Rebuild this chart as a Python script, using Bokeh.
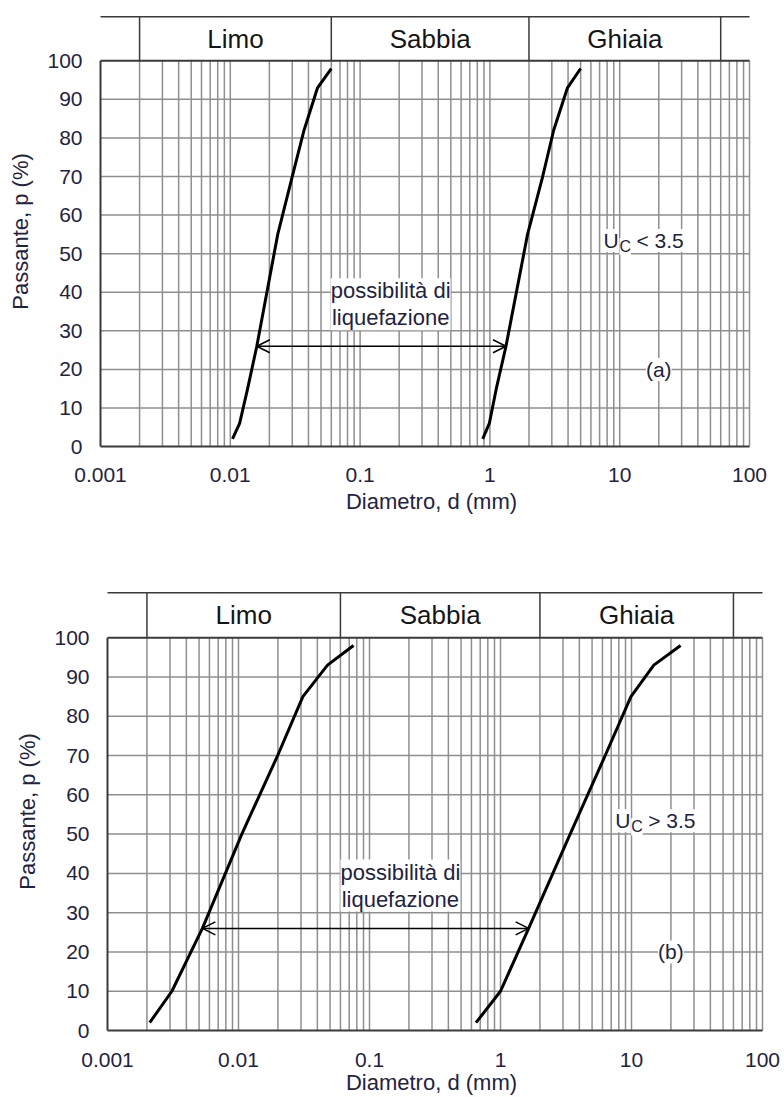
import numpy as np
from bokeh.plotting import figure
from bokeh.models import Range1d, FixedTicker, Label, Arrow, OpenHead
from bokeh.layouts import column
from bokeh.embed import file_html
from bokeh.resources import INLINE

# ---------------- data ----------------
classes = ["Limo", "Sabbia", "Ghiaia"]
class_bounds = [0.002, 0.06, 2.0, 60.0]
x_ticks = [0.001, 0.01, 0.1, 1, 10, 100]
x_tick_labels = ["0.001", "0.01", "0.1", "1", "10", "100"]
y_ticks = [0, 10, 20, 30, 40, 50, 60, 70, 80, 90, 100]

# panel (a): Uc < 3.5
a_fine_p = [2, 6, 15, 26, 55, 70, 82, 93, 98]
a_fine_d = [0.0104, 0.0118, 0.0136, 0.016, 0.0232, 0.030, 0.037, 0.047, 0.060]
a_coarse_p = [2, 6, 15, 26, 55, 70, 82, 93, 98]
a_coarse_d = [0.88, 0.99, 1.12, 1.33, 1.95, 2.55, 3.1, 3.96, 5.0]

# panel (b): Uc > 3.5
b_fine_p = [2, 10, 26, 50, 70, 85, 93, 98]
b_fine_d = [0.0021, 0.0031, 0.0053, 0.0106, 0.0199, 0.031, 0.0478, 0.0755]
b_coarse_p = [2, 10, 26, 50, 70, 85, 93, 98]
b_coarse_d = [0.65, 1.0, 1.64, 3.4, 6.3, 9.9, 14.8, 23.7]

arrow_p = 26
FONT = "Liberation Sans"
TXT = "#1f2340"
GRID = "#8f8f8f"
DARK = "#3a3a3a"
BAND_TOP = 111.4

# common frame (both panels are aligned by the column layout)
FRAME_L = 96
FRAME_R = 766


def interp_d(p_val, ps, ds):
    return 10 ** np.interp(p_val, ps, np.log10(ds))


def make_panel(H, top, frame_h, px0, px_dec, fine_d, fine_p, coarse_d, coarse_p,
               uc_sym, tag, ytick_standoff, xtick_standoff, xlab_standoff):
    lo = -3 - (px0 - FRAME_L) / px_dec
    hi = 2 + (FRAME_R - (px0 + 5 * px_dec)) / px_dec
    p = figure(width=784, height=H, x_axis_type="log",
               x_range=Range1d(10 ** lo, 10 ** hi),
               y_range=Range1d(-0.5, 112),
               output_backend="svg", toolbar_location=None,
               min_border_left=FRAME_L, min_border_right=784 - FRAME_R,
               min_border_top=top, min_border_bottom=H - top - frame_h)
    p.xgrid.visible = False
    p.ygrid.visible = False
    p.outline_line_color = None
    p.background_fill_color = "white"
    p.border_fill_color = "white"

    # axes
    p.xaxis.ticker = FixedTicker(ticks=x_ticks)
    p.xaxis.major_label_overrides = dict(zip(x_ticks, x_tick_labels))
    p.yaxis.ticker = FixedTicker(ticks=y_ticks)
    for ax in (p.xaxis[0], p.yaxis[0]):
        ax.axis_line_color = None
        ax.major_tick_line_color = None
        ax.minor_tick_line_color = None
        ax.major_tick_in = 0
        ax.major_tick_out = 0
        ax.minor_tick_in = 0
        ax.minor_tick_out = 0
        ax.major_label_text_font = FONT
        ax.major_label_text_font_size = "21px"
        ax.major_label_text_color = TXT
        ax.axis_label_text_font = FONT
        ax.axis_label_text_font_size = "22px"
        ax.axis_label_text_font_style = "normal"
        ax.axis_label_text_color = TXT
    p.xaxis.axis_label = "Diametro, d (mm)"
    p.yaxis.axis_label = "Passante, p (%)"
    p.xaxis.major_label_standoff = xtick_standoff
    p.xaxis.axis_label_standoff = xlab_standoff
    p.yaxis.major_label_standoff = ytick_standoff
    p.yaxis.axis_label_standoff = 11

    # grid (log grid derived from decades)
    vx = [k * 10.0 ** e for e in range(-3, 2) for k in range(1, 10)][1:] + [100.0]
    p.segment(x0=vx, y0=[0] * len(vx), x1=vx, y1=[100] * len(vx),
              line_color=GRID, line_width=1.5)
    hy = y_ticks[1:-1]
    p.segment(x0=[x_ticks[0]] * len(hy), y0=hy, x1=[x_ticks[-1]] * len(hy), y1=hy,
              line_color=GRID, line_width=1.5)

    # frame (left, bottom, top)
    p.segment(x0=[x_ticks[0], x_ticks[0], x_ticks[0]], y0=[0, 0, 100],
              x1=[x_ticks[0], x_ticks[-1], x_ticks[-1]], y1=[100, 0, 100],
              line_color=DARK, line_width=2)

    # classification band
    p.segment(x0=[x_ticks[0]], y0=[BAND_TOP], x1=[x_ticks[-1]], y1=[BAND_TOP],
              line_color=DARK, line_width=1.5)
    p.segment(x0=class_bounds, y0=[100] * 4, x1=class_bounds, y1=[BAND_TOP] * 4,
              line_color=DARK, line_width=1.5)
    for i, name in enumerate(classes):
        xc = np.sqrt(class_bounds[i] * class_bounds[i + 1])
        p.add_layout(Label(x=xc, y=(100 + BAND_TOP) / 2, text=name,
                           text_font=FONT, text_font_size="26px", text_color="#151515",
                           text_align="center", text_baseline="middle"))

    # curves
    p.line(fine_d, fine_p, line_color="black", line_width=3, line_join="round")
    p.line(coarse_d, coarse_p, line_color="black", line_width=3, line_join="round")

    # arrow
    xa = interp_d(arrow_p, fine_p, fine_d)
    xb = interp_d(arrow_p, coarse_p, coarse_d)
    p.add_layout(Arrow(x_start=xa, y_start=arrow_p, x_end=xb, y_end=arrow_p,
                       line_color="black", line_width=1.5,
                       start=OpenHead(size=13, line_width=1.5, line_color="black"),
                       end=OpenHead(size=13, line_width=1.5, line_color="black")))

    p.add_layout(Label(x=0.172, y=36.9, text="possibilità di\nliquefazione",
                       text_font=FONT, text_font_size="22px", text_color=TXT,
                       text_align="center", text_baseline="middle",
                       text_line_height=1.08,
                       background_fill_color="white"))

    # Uc label
    p.add_layout(Label(x=7.5, y=53.4, text="U", text_font=FONT, text_font_size="21px",
                       text_color=TXT, text_align="left", text_baseline="middle",
                       background_fill_color="white"))
    p.add_layout(Label(x=7.5, y=53.4, x_offset=16, y_offset=-6, text="C",
                       text_font=FONT, text_font_size="16px",
                       text_color=TXT, text_align="left", text_baseline="middle",
                       background_fill_color="white"))
    p.add_layout(Label(x=7.5, y=53.4, x_offset=33, text=uc_sym + " 3.5",
                       text_font=FONT, text_font_size="21px",
                       text_color=TXT, text_align="left", text_baseline="middle",
                       background_fill_color="white"))
    p.add_layout(Label(x=20, y=20, text=tag, text_font=FONT, text_font_size="21px",
                       text_color=TXT, text_align="center", text_baseline="middle",
                       background_fill_color="white"))
    return p


pa = make_panel(558, 14, 434, 100, 129.8, a_fine_d, a_fine_p, a_coarse_d, a_coarse_p,
                "<", "(a)", ytick_standoff=14, xtick_standoff=19, xlab_standoff=4)
pb = make_panel(539, 32, 442, 107, 131.0, b_fine_d, b_fine_p, b_coarse_d, b_coarse_p,
                ">", "(b)", ytick_standoff=7, xtick_standoff=20, xlab_standoff=0)

layout = column(pa, pb)
open("out.html", "w").write(file_html(layout, INLINE))
